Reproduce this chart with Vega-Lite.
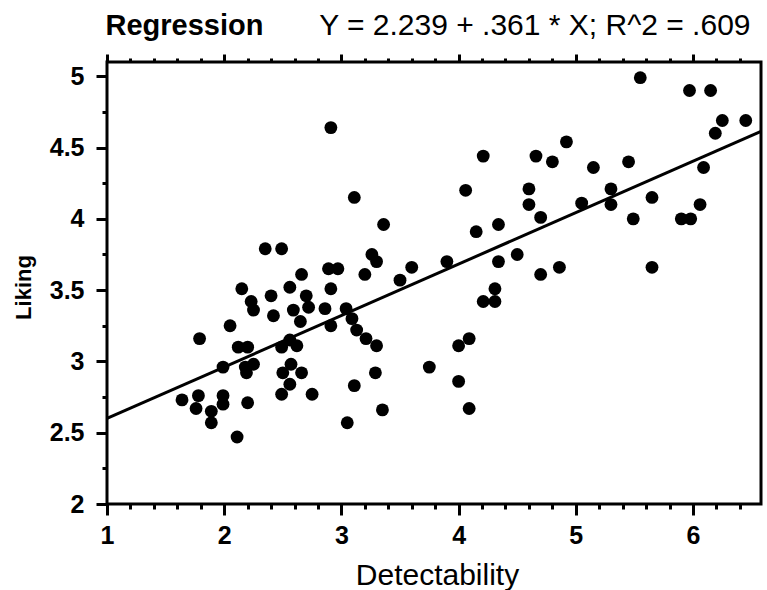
{
  "$schema": "https://vega.github.io/schema/vega-lite/v6.json",
  "width": 654,
  "height": 442,
  "autosize": {"type": "none"},
  "padding": {"left": 107, "top": 62, "right": 6, "bottom": 86},
  "background": "white",
  "config": {
    "view": {"stroke": "black", "strokeWidth": 3},
    "font": "Liberation Sans"
  },
  "datasets": {
    "points": [
      {"d": 1.64, "l": 2.73}, {"d": 1.78, "l": 2.76}, {"d": 1.76, "l": 2.67}, {"d": 1.89, "l": 2.65},
      {"d": 1.89, "l": 2.57}, {"d": 1.99, "l": 2.76}, {"d": 1.99, "l": 2.70}, {"d": 2.20, "l": 2.71},
      {"d": 2.11, "l": 2.47}, {"d": 1.99, "l": 2.96}, {"d": 1.79, "l": 3.16}, {"d": 2.05, "l": 3.25},
      {"d": 2.12, "l": 3.10}, {"d": 2.20, "l": 3.10}, {"d": 2.18, "l": 2.96}, {"d": 2.25, "l": 2.98},
      {"d": 2.19, "l": 2.92}, {"d": 2.15, "l": 3.51}, {"d": 2.23, "l": 3.42}, {"d": 2.25, "l": 3.36},
      {"d": 2.35, "l": 3.79}, {"d": 2.49, "l": 3.79}, {"d": 2.40, "l": 3.46}, {"d": 2.56, "l": 3.52},
      {"d": 2.70, "l": 3.46}, {"d": 2.42, "l": 3.32}, {"d": 2.59, "l": 3.36}, {"d": 2.72, "l": 3.38},
      {"d": 2.65, "l": 3.28}, {"d": 2.66, "l": 3.61}, {"d": 2.86, "l": 3.37}, {"d": 2.91, "l": 3.25},
      {"d": 2.91, "l": 3.51}, {"d": 2.89, "l": 3.65}, {"d": 2.97, "l": 3.65}, {"d": 2.91, "l": 4.64},
      {"d": 3.11, "l": 4.15}, {"d": 3.36, "l": 3.96}, {"d": 3.20, "l": 3.61}, {"d": 3.26, "l": 3.75},
      {"d": 3.30, "l": 3.70}, {"d": 3.04, "l": 3.37}, {"d": 3.09, "l": 3.30}, {"d": 3.13, "l": 3.22},
      {"d": 3.21, "l": 3.16}, {"d": 3.30, "l": 3.11}, {"d": 2.56, "l": 3.15}, {"d": 2.49, "l": 3.10},
      {"d": 2.62, "l": 3.11}, {"d": 2.57, "l": 2.98}, {"d": 2.50, "l": 2.92}, {"d": 2.66, "l": 2.92},
      {"d": 2.56, "l": 2.84}, {"d": 2.49, "l": 2.77}, {"d": 2.75, "l": 2.77}, {"d": 3.29, "l": 2.92},
      {"d": 3.11, "l": 2.83}, {"d": 3.35, "l": 2.66}, {"d": 3.05, "l": 2.57}, {"d": 3.50, "l": 3.57},
      {"d": 3.60, "l": 3.66}, {"d": 3.90, "l": 3.70}, {"d": 3.75, "l": 2.96}, {"d": 4.00, "l": 2.86},
      {"d": 4.09, "l": 2.67}, {"d": 4.00, "l": 3.11}, {"d": 4.09, "l": 3.16}, {"d": 4.21, "l": 3.42},
      {"d": 4.31, "l": 3.42}, {"d": 4.31, "l": 3.51}, {"d": 4.34, "l": 3.70}, {"d": 4.34, "l": 3.96},
      {"d": 4.50, "l": 3.75}, {"d": 4.15, "l": 3.91}, {"d": 4.06, "l": 4.20}, {"d": 4.21, "l": 4.44},
      {"d": 4.60, "l": 4.21}, {"d": 4.60, "l": 4.10}, {"d": 4.70, "l": 4.01}, {"d": 4.70, "l": 3.61},
      {"d": 4.86, "l": 3.66}, {"d": 4.66, "l": 4.44}, {"d": 4.80, "l": 4.40}, {"d": 4.92, "l": 4.54},
      {"d": 5.05, "l": 4.11}, {"d": 5.15, "l": 4.36}, {"d": 5.30, "l": 4.21}, {"d": 5.30, "l": 4.10},
      {"d": 5.45, "l": 4.40}, {"d": 5.49, "l": 4.00}, {"d": 5.55, "l": 4.99}, {"d": 5.65, "l": 4.15},
      {"d": 5.65, "l": 3.66}, {"d": 5.90, "l": 4.00}, {"d": 5.98, "l": 4.00}, {"d": 5.97, "l": 4.90},
      {"d": 6.15, "l": 4.90}, {"d": 6.06, "l": 4.10}, {"d": 6.09, "l": 4.36}, {"d": 6.19, "l": 4.60},
      {"d": 6.25, "l": 4.69}, {"d": 6.45, "l": 4.69}
    ],
    "fit": [
      {"d": 1, "l": 2.600},
      {"d": 6.58, "l": 4.614}
    ]
  },
  "layer": [
    {
      "data": {"name": "points"},
      "mark": {"type": "point", "filled": true, "color": "black", "opacity": 1, "size": 165},
      "encoding": {
        "x": {
          "field": "d", "type": "quantitative",
          "scale": {"domain": [1, 6.58], "nice": false, "zero": false},
          "axis": {
            "orient": "bottom",
            "title": "Detectability",
            "values": [1, 1.2, 1.4, 1.6, 1.8, 2, 2.2, 2.4, 2.6, 2.8, 3, 3.2, 3.4, 3.6, 3.8, 4, 4.2, 4.4, 4.6, 4.8, 5, 5.2, 5.4, 5.6, 5.8, 6, 6.2, 6.4],
            "labelExpr": "datum.value % 1 === 0 ? format(datum.value, 'd') : ''",
            "domain": false, "grid": false,
            "tickColor": "black", "tickWidth": 3,
            "tickSize": {"condition": {"test": "datum.value % 1 === 0", "value": 11}, "value": 5},
            "labelFont": "Liberation Sans", "labelFontSize": 25, "labelFontWeight": "bold", "labelColor": "black",
            "labelPadding": 8, "labelFlush": false, "labelOverlap": false,
            "titleFont": "Liberation Sans", "titleFontSize": 30, "titleFontWeight": "normal", "titleColor": "black",
            "titleX": 330, "titleY": 80, "titleBaseline": "alphabetic", "titleAlign": "center"
          }
        },
        "y": {
          "field": "l", "type": "quantitative",
          "scale": {"domain": [2, 5.1], "nice": false, "zero": false},
          "axis": {
            "orient": "left",
            "title": "Liking",
            "values": [2, 2.25, 2.5, 2.75, 3, 3.25, 3.5, 3.75, 4, 4.25, 4.5, 4.75, 5],
            "labelExpr": "(datum.value * 2) % 1 === 0 ? format(datum.value, '~g') : ''",
            "domain": false, "grid": false,
            "tickColor": "black", "tickWidth": 3,
            "tickSize": {"condition": {"test": "(datum.value * 2) % 1 === 0", "value": 11}, "value": 5},
            "labelFont": "Liberation Sans", "labelFontSize": 25, "labelFontWeight": "bold", "labelColor": "black",
            "labelPadding": 12, "labelFlush": false, "labelOverlap": false,
            "titleFont": "Liberation Sans", "titleFontSize": 22, "titleFontWeight": "bold", "titleColor": "black",
            "titleX": -84, "titleY": 225, "titleBaseline": "middle", "titleAlign": "center", "titleAngle": -90
          }
        }
      }
    },
    {
      "data": {"name": "fit"},
      "mark": {"type": "line", "color": "black", "strokeWidth": 3},
      "encoding": {
        "x": {
          "field": "d", "type": "quantitative",
          "scale": {"domain": [1, 6.58], "nice": false, "zero": false},
          "axis": {
            "orient": "top",
            "title": "Regression",
            "values": [1, 1.2, 1.4, 1.6, 1.8, 2, 2.2, 2.4, 2.6, 2.8, 3, 3.2, 3.4, 3.6, 3.8, 4, 4.2, 4.4, 4.6, 4.8, 5, 5.2, 5.4, 5.6, 5.8, 6, 6.2, 6.4],
            "labels": false, "domain": false, "grid": false,
            "tickColor": "black", "tickWidth": 3,
            "tickSize": {"condition": {"test": "datum.value % 1 === 0", "value": 8}, "value": 4},
            "titleFont": "Liberation Sans", "titleFontSize": 29, "titleFontWeight": "bold", "titleColor": "black",
            "titleX": -2, "titleY": -28, "titleBaseline": "alphabetic", "titleAlign": "left", "titleAngle": 0
          }
        },
        "y": {
          "field": "l", "type": "quantitative",
          "scale": {"domain": [2, 5.1], "nice": false, "zero": false},
          "axis": {
            "orient": "right",
            "title": "Y = 2.239 + .361 * X; R^2 = .609",
            "ticks": false, "labels": false, "domain": false, "grid": false,
            "titleFont": "Liberation Sans", "titleFontSize": 30, "titleFontWeight": "normal", "titleColor": "black",
            "titleX": -11, "titleY": -28, "titleBaseline": "alphabetic", "titleAlign": "right", "titleAngle": 0
          }
        }
      }
    }
  ],
  "resolve": {"axis": {"x": "independent", "y": "independent"}}
}
